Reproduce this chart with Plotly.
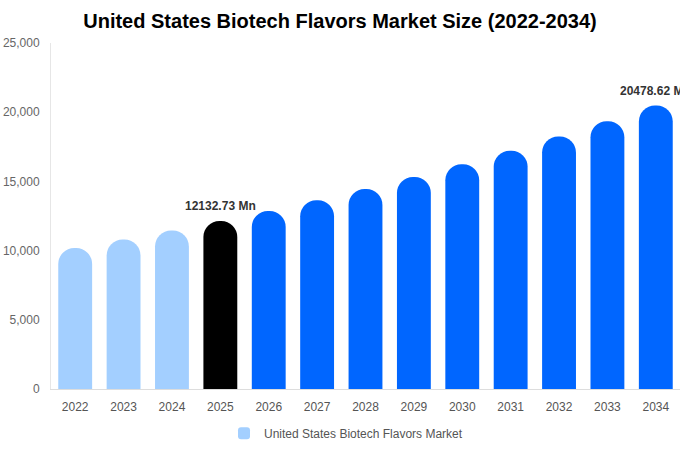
import plotly.graph_objects as go

years = ["2022", "2023", "2024", "2025", "2026", "2027", "2028",
         "2029", "2030", "2031", "2032", "2033", "2034"]
market_size = [10180, 10800, 11450, 12132.73, 12860, 13630, 14450,
               15320, 16240, 17210, 18240, 19340, 20478.62]
bar_colors = ["#A3CFFF"] * 3 + ["#000000"] + ["#0066FF"] * 9
labelled = {"2025": "12132.73 Mn", "2034": "20478.62 Mn"}

fig = go.Figure()
fig.add_trace(go.Bar(
    x=years,
    y=market_size,
    name="United States Biotech Flavors Market",
    marker=dict(color=bar_colors, cornerradius="50%", line=dict(width=0)),
    showlegend=True,
))

# value labels on the highlighted bars (x given as category index)
for yr, txt in labelled.items():
    i = years.index(yr)
    fig.add_annotation(
        x=i, y=market_size[i], text="<b>" + txt + "</b>",
        showarrow=False, yanchor="bottom", yshift=6,
        font=dict(size=12, color="#333333"),
    )

fig.update_layout(
    title=dict(text="<b>United States Biotech Flavors Market Size (2022-2034)</b>",
               x=0.5, xanchor="center", y=0.97, yanchor="top",
               font=dict(size=20, color="black", family="Liberation Sans, Arial")),
    font=dict(family="Liberation Sans, Arial", size=12, color="#666666"),
    width=680,
    height=450,
    margin=dict(l=51, r=0, t=43, b=61),
    plot_bgcolor="white",
    paper_bgcolor="white",
    bargap=0.3,
    legend=dict(orientation="h", x=0.469, xanchor="center", y=-0.086, yanchor="top",
                font=dict(size=12, color="#555555")),
    # fixed range so the label annotations don't widen the axis
    xaxis=dict(type="category", range=[-0.5, len(years) - 0.5], showline=True,
               linecolor="#dddddd", linewidth=1, showgrid=False, ticks="",
               ticklabelstandoff=7, tickfont=dict(size=12, color="#555555")),
    yaxis=dict(range=[0, 25000], dtick=5000, tickformat=",", showline=True,
               linecolor="#e6e6e6", showgrid=False, zeroline=False, ticks="",
               ticklabelstandoff=8, tickfont=dict(size=12, color="#666666")),
)

# drop the default page margin so the figure sits at the window's corner
fig.write_html("out.html", config={"displayModeBar": False},
               post_script="document.body.style.margin='0px';")
